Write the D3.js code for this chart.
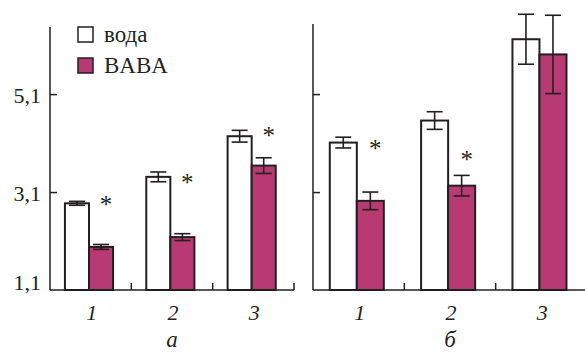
<!DOCTYPE html>
<html>
<head>
<meta charset="utf-8">
<script src="https://cdn.jsdelivr.net/npm/d3@7"></script>
<style>
  body { margin: 0; background: #fff; }
  svg { display: block; font-family: 'Liberation Serif', 'Times New Roman', serif; }
</style>
</head>
<body>
<svg id="chart" width="585" height="352"></svg>
<script>
// Values.
const categories = ['1', '2', '3'];
const seriesNames = ['вода', 'BABA'];

// Panel a.
const waterA = [2.87, 3.41, 4.24];
const waterAErr = [0.04, 0.10, 0.12];
const babaA = [1.98, 2.18, 3.64];
const babaAErr = [0.05, 0.07, 0.16];
const starsA = [2.94, 3.39, 4.34];

// Panel б.
const waterB = [4.11, 4.56, 6.22];
const waterBErr = [0.11, 0.18, 0.51];
const babaB = [2.92, 3.23, 5.91];
const babaBErr = [0.18, 0.21, 0.80];
const starsB = [4.08, 3.86, null];

const yTicks = [1.1, 3.1, 5.1];

const INK = '#231f20';
const PINK = '#b73a73';
const FILLS = ['#ffffff', PINK];

const svg = d3.select('#chart');

const y = d3.scaleLinear().domain([1.1, 6.47]).range([290, 27]);

/**
 * Draws one panel of grouped bars with error bars and asterisks.
 */
function drawPanel(opts) {
  const {x0, x1, axisTop, water, waterErr, baba, babaErr, stars, letter,
    showLabels, baseY} = opts;
  const g = svg.append('g');

  const xBand = d3.scaleBand().domain(categories).range([x0, x1]);
  const inner = d3.scaleBand().domain(seriesNames)
      .range([0, xBand.bandwidth()])
      .paddingOuter(0.69)
      .align(0.45);

  const rows = categories.map((c, i) => ({
    cat: c,
    vals: [
      {name: seriesNames[0], v: water[i], e: waterErr[i], k: 0},
      {name: seriesNames[1], v: baba[i], e: babaErr[i], k: 1},
    ],
    star: stars[i],
  }));

  // Bars.
  const groups = g.selectAll('g.grp')
      .data(rows)
      .join('g')
      .attr('class', 'grp')
      .attr('transform', d => `translate(${xBand(d.cat)},0)`);

  groups.selectAll('rect')
      .data(d => d.vals)
      .join('rect')
      .attr('x', d => inner(d.name))
      .attr('y', d => y(d.v))
      .attr('width', inner.bandwidth())
      .attr('height', d => baseY - y(d.v))
      .attr('fill', d => FILLS[d.k])
      .attr('stroke', INK)
      .attr('stroke-width', 2);

  // Error bars.
  const cap = 8;
  const err = groups.selectAll('g.err')
      .data(d => d.vals)
      .join('g')
      .attr('class', 'err')
      .attr('stroke', INK)
      .attr('stroke-width', 1.6);
  err.append('line')
      .attr('x1', d => inner(d.name) + inner.bandwidth() / 2)
      .attr('x2', d => inner(d.name) + inner.bandwidth() / 2)
      .attr('y1', d => y(d.v + d.e))
      .attr('y2', d => y(d.v - d.e));
  err.append('line')
      .attr('x1', d => inner(d.name) + inner.bandwidth() / 2 - cap)
      .attr('x2', d => inner(d.name) + inner.bandwidth() / 2 + cap)
      .attr('y1', d => y(d.v + d.e))
      .attr('y2', d => y(d.v + d.e));
  err.append('line')
      .attr('x1', d => inner(d.name) + inner.bandwidth() / 2 - cap)
      .attr('x2', d => inner(d.name) + inner.bandwidth() / 2 + cap)
      .attr('y1', d => y(d.v - d.e))
      .attr('y2', d => y(d.v - d.e));

  // Significance asterisks.
  groups.filter(d => d.star != null)
      .append('text')
      .attr('x', inner(seriesNames[1]) + inner.bandwidth() / 2 + 5)
      .attr('y', d => y(d.star) + 13)
      .attr('text-anchor', 'middle')
      .attr('font-size', 25)
      .attr('fill', INK)
      .text('*');

  // Y axis: ticks pointing inward.
  const yAxis = d3.axisLeft(y)
      .tickValues(yTicks.filter(t => t > 1.1))
      .tickSizeInner(-7)
      .tickSizeOuter(0)
      .tickPadding(9)
      .tickFormat(d => showLabels ? d.toFixed(1).replace('.', ',') : '');
  const ya = g.append('g')
      .attr('transform', `translate(${x0},0)`)
      .call(yAxis);
  ya.select('.domain').remove();
  ya.selectAll('.tick line').attr('stroke', INK).attr('stroke-width', 1.5);
  ya.selectAll('.tick text')
      .attr('font-size', 22)
      .attr('font-family', "'Liberation Serif', serif")
      .attr('fill', INK)
      .attr('dy', '0.4em');
  g.append('line')
      .attr('x1', x0).attr('x2', x0)
      .attr('y1', axisTop).attr('y2', baseY)
      .attr('stroke', INK).attr('stroke-width', 1.5);

  if (showLabels) {
    g.append('text')
        .attr('x', x0 - 9)
        .attr('y', baseY)
        .attr('text-anchor', 'end')
        .attr('font-size', 22)
        .attr('fill', INK)
        .text(yTicks[0].toFixed(1).replace('.', ','));
  }

  // X axis with separator ticks between groups.
  g.append('line')
      .attr('x1', x0).attr('x2', x1)
      .attr('y1', baseY).attr('y2', baseY)
      .attr('stroke', INK).attr('stroke-width', 1.5);
  g.selectAll('line.sep')
      .data(categories)
      .join('line')
      .attr('class', 'sep')
      .attr('x1', d => xBand(d) + xBand.bandwidth())
      .attr('x2', d => xBand(d) + xBand.bandwidth())
      .attr('y1', baseY)
      .attr('y2', baseY - 7)
      .attr('stroke', INK).attr('stroke-width', 1.5);

  g.selectAll('text.cat')
      .data(categories)
      .join('text')
      .attr('class', 'cat')
      .attr('x', d => xBand(d) + xBand.bandwidth() / 2 + 1)
      .attr('y', 320)
      .attr('text-anchor', 'middle')
      .attr('font-size', 22)
      .attr('font-style', 'italic')
      .attr('fill', INK)
      .text(d => d);

  g.append('text')
      .attr('x', xBand(categories[1]) + xBand.bandwidth() / 2)
      .attr('y', 347)
      .attr('text-anchor', 'middle')
      .attr('font-size', 23)
      .attr('font-style', 'italic')
      .attr('fill', INK)
      .text(letter);
}

drawPanel({
  x0: 50, x1: 294, axisTop: 27, baseY: 290,
  water: waterA, waterErr: waterAErr, baba: babaA, babaErr: babaAErr,
  stars: starsA, letter: 'а', showLabels: true,
});
drawPanel({
  x0: 313, x1: 587, axisTop: 24, baseY: 290,
  water: waterB, waterErr: waterBErr, baba: babaB, babaErr: babaBErr,
  stars: starsB, letter: 'б', showLabels: false,
});

// Legend.
const legend = svg.append('g').attr('transform', 'translate(78,27)');
const items = legend.selectAll('g')
    .data(seriesNames)
    .join('g')
    .attr('transform', (d, i) => `translate(0,${i * 31})`);
items.append('rect')
    .attr('width', 15)
    .attr('height', 15)
    .attr('fill', (d, i) => FILLS[i])
    .attr('stroke', INK)
    .attr('stroke-width', 1.5);
items.append('text')
    .attr('x', 26)
    .attr('y', 15)
    .attr('font-size', 23)
    .attr('fill', INK)
    .text(d => d);
</script>
</body>
</html>
